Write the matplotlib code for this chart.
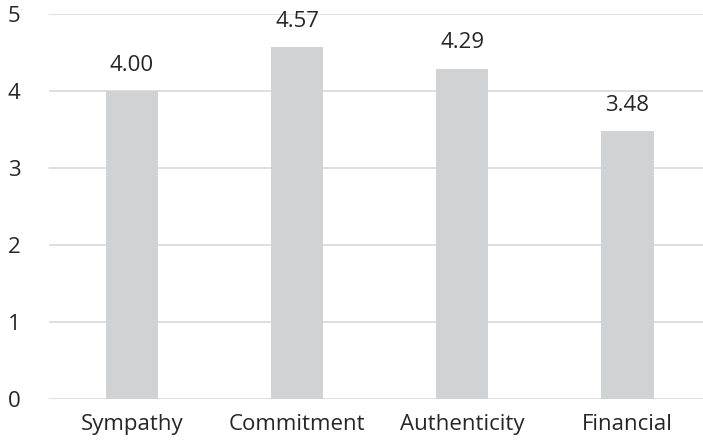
import matplotlib
matplotlib.use("Agg")
import matplotlib.pyplot as plt

categories = ["Sympathy", "Commitment", "Authenticity", "Financial"]
scores = [4.00, 4.57, 4.29, 3.48]
y_ticks = [0, 1, 2, 3, 4, 5]

plt.rcParams['font.family'] = ['Open Sans', 'DejaVu Sans']
text_color = '#262626'

fig = plt.figure(figsize=(7.03, 4.46), dpi=100)
ax = fig.add_axes([0.0701, 0.1054, 0.940, 0.863])

x = range(len(categories))
bars = ax.bar(x, scores, width=0.315, color='#d1d2d4', zorder=2)

# value labels above each bar
for bar, val in zip(bars, scores):
    ax.annotate(f"{val:.2f}", (bar.get_x() + bar.get_width() / 2, val),
                xytext=(0, 11), textcoords='offset points',
                ha='center', va='bottom', fontsize=16, color=text_color)

ax.set_xlim(-0.5, len(categories) - 0.5)
ax.set_ylim(0, 5)
ax.set_yticks(y_ticks)
ax.set_xticks(list(x))
ax.set_xticklabels(categories)
ax.yaxis.grid(True, color='#d9d9d9', lw=1.2, zorder=0)
ax.set_axisbelow(True)
for side in ['top', 'right', 'left', 'bottom']:
    ax.spines[side].set_visible(False)
ax.tick_params(axis='both', length=0, labelsize=16, colors=text_color)
ax.tick_params(axis='y', pad=30)
ax.tick_params(axis='x', pad=11)
for lbl in ax.get_yticklabels():
    lbl.set_horizontalalignment('left')

fig.savefig('out.png', dpi=100)
